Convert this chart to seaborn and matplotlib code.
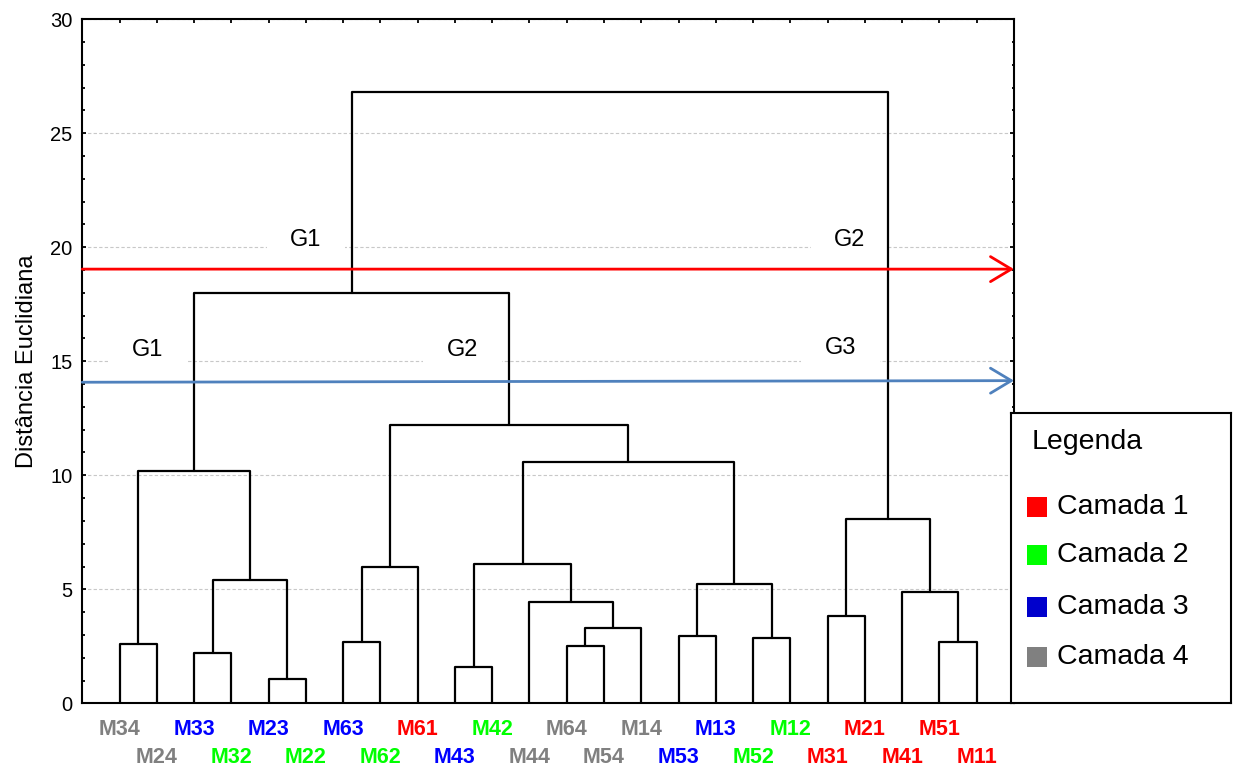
#!/usr/bin/env python3
"""
Dendrograma das amostras por camada (distância euclidiana)
"""

import pandas as pd
import matplotlib.pyplot as plt
import seaborn as sns

sns.set_theme(style="ticks")
plt.rcParams['font.family'] = ['Liberation Sans', 'DejaVu Sans']

# Leaves in dendrogram order and their layer (camada)
leaf_labels = ['M34', 'M24', 'M33', 'M32', 'M23', 'M22', 'M63', 'M62', 'M61',
               'M43', 'M42', 'M44', 'M64', 'M54', 'M14', 'M53', 'M13', 'M52',
               'M12', 'M31', 'M21', 'M41', 'M51', 'M11']
leaf_camada = [4, 4, 3, 2, 3, 2, 3, 2, 1, 3, 2, 4, 4, 4, 4, 3, 3, 2, 2, 1, 1, 1, 1, 1]

# Linkage (scipy style): cluster n+k merges merge_a[k] and merge_b[k] at merge_h[k]
merge_a = [4, 9, 2, 12, 0, 6, 22, 17, 15, 27, 19, 11, 21, 32, 26, 29, 25, 34, 28, 40, 39, 42, 45]
merge_b = [5, 10, 3, 13, 1, 7, 23, 18, 16, 14, 20, 33, 30, 31, 24, 8, 35, 36, 38, 37, 43, 44, 41]
merge_h = [1.05, 1.59, 2.19, 2.51, 2.59, 2.70, 2.70, 2.86, 2.95, 3.29, 3.82, 4.44,
           4.89, 5.23, 5.39, 5.99, 6.10, 8.10, 10.18, 10.58, 12.21, 18.0, 26.81]

# Cut lines (G groups)
cut1_y = [19.04, 19.04]
cut2_y = [14.08, 14.15]
group_names = ['G1', 'G2', 'G1', 'G2', 'G3']
group_x = [6.0, 20.6, 1.75, 10.2, 20.35]
group_y = [20.3, 20.3, 15.5, 15.5, 15.6]

legend_names = ['Camada 1', 'Camada 2', 'Camada 3', 'Camada 4']
CAMADA_COLORS = {1: '#ff0000', 2: '#00ff00', 3: '#0000ff', 4: '#808080'}
LEGEND_COLORS = ['#ff0000', '#00ff00', '#0000cc', '#808080']
RED = '#ff0000'
BLUE = '#4f81bd'


def dendrogram_segments():
    """Build U-shaped segments of the dendrogram from the linkage lists"""
    n = len(leaf_labels)
    xpos = {i: i + 1 for i in range(n)}
    hpos = {i: 0.0 for i in range(n)}
    rows = []
    for k, (a, b, h) in enumerate(zip(merge_a, merge_b, merge_h)):
        xs = [xpos[a], xpos[a], xpos[b], xpos[b]]
        ys = [hpos[a], h, h, hpos[b]]
        for order, (x, y) in enumerate(zip(xs, ys)):
            rows.append({'node': k, 'order': order, 'x': x, 'y': y})
        xpos[n + k] = (xpos[a] + xpos[b]) / 2
        hpos[n + k] = h
    return pd.DataFrame(rows)


def plot_dendrogram():
    fig = plt.figure(figsize=(12.33, 7.67), dpi=100)
    ax = fig.add_axes([0.0667, 0.083, 0.7557, 0.892])

    df = dendrogram_segments()
    sns.lineplot(data=df, x='x', y='y', units='node', estimator=None, sort=False,
                 color='black', linewidth=1.6, ax=ax, zorder=3, legend=False)

    n = len(leaf_labels)
    ax.set_xlim(0, n + 1)
    ax.set_ylim(0, 30)

    # Grid
    ax.set_axisbelow(True)
    ax.set_yticks(range(0, 31, 5))
    ax.set_yticks(range(0, 31, 1), minor=True)
    ax.yaxis.grid(True, which='major', color='#c8c8c8', linestyle=(0, (3, 2)), linewidth=0.8)
    ax.set_xticks(range(1, n + 1))
    ax.set_xticklabels([])
    ax.tick_params(axis='both', which='both', direction='in', top=True, right=True,
                   bottom=True, left=True, width=1.3, colors='black')
    ax.tick_params(axis='both', which='major', length=3)
    ax.tick_params(axis='y', which='minor', length=1.8)
    ax.tick_params(axis='y', labelsize=14.5, pad=7)
    for s in ax.spines.values():
        s.set_visible(True)
        s.set_color('black')
        s.set_linewidth(1.5)

    ax.set_xlabel('')
    ax.set_ylabel('Distância Euclidiana', fontsize=17, labelpad=9, color='black')

    # Leaf labels in two staggered rows
    trans = ax.get_xaxis_transform()
    for i, (lab, cam) in enumerate(zip(leaf_labels, leaf_camada)):
        yrow = -0.038 if i % 2 == 0 else -0.079
        ax.text(i + 1, yrow, lab, transform=trans, ha='center', va='center',
                fontsize=15.5, fontweight='bold', color=CAMADA_COLORS[cam], clip_on=False)

    # Cut arrows
    for ys, col in [(cut1_y, RED), (cut2_y, BLUE)]:
        ax.annotate('', xy=(n + 1, ys[1]), xytext=(0, ys[0]),
                    arrowprops=dict(arrowstyle='->,head_length=1.0,head_width=0.6',
                                    color=col, lw=2.0, shrinkA=0, shrinkB=0,
                                    mutation_scale=15),
                    annotation_clip=False, zorder=4)

    # Group labels (white boxes hide grid lines)
    for name, gx, gy in zip(group_names, group_x, group_y):
        ax.text(gx, gy, name, fontsize=17, ha='center', va='center', color='black',
                zorder=1, bbox=dict(boxstyle='square,pad=1.0', facecolor='white',
                                    edgecolor='none'))

    # Legend box
    lax = fig.add_axes([0.820, 0.0834, 0.1784, 0.378])
    lax.set_xlim(0, 1)
    lax.set_ylim(0, 1)
    lax.set_xticks([])
    lax.set_yticks([])
    lax.set_facecolor('white')
    for s in lax.spines.values():
        s.set_visible(True)
        s.set_color('black')
        s.set_linewidth(1.5)
    lax.text(0.095, 0.90, 'Legenda', fontsize=20.5, ha='left', va='center', color='black')
    entry_y = [0.676, 0.510, 0.331, 0.159]
    for name, col, ey in zip(legend_names, LEGEND_COLORS, entry_y):
        lax.scatter([0.118], [ey], marker='s', s=200, color=col, edgecolors='none')
        lax.text(0.209, ey, name, fontsize=20.5, ha='left', va='center', color='black')

    fig.savefig('out.png', dpi=100)
    plt.close(fig)


if __name__ == "__main__":
    plot_dendrogram()
